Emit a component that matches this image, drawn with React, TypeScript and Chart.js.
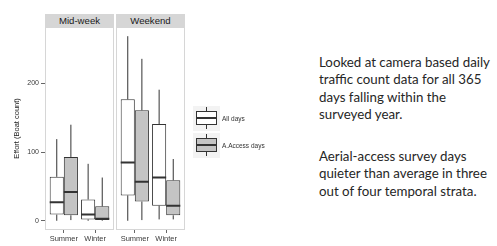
import { useEffect, useRef } from "react";
import { Chart, registerables } from "chart.js";
Chart.register(...registerables);

const panels = ["Mid-week", "Weekend"];
const categories = ["Summer", "Winter"];
const seriesNames = ["All days", "A.Access days"];
const yTicks = [0, 100, 200];
// each entry: [min, q1, median, q3, max] for Summer, Winter
const midweekAllDays = [[0, 9, 27, 64, 119], [0, 2, 9, 31, 83]];
const midweekAccessDays = [[1, 8, 42, 93, 140], [0, 1, 3, 21, 63]];
const weekendAllDays = [[0, 37, 85, 177, 269], [2, 22, 63, 141, 191]];
const weekendAccessDays = [[1, 28, 57, 161, 236], [2, 8, 22, 59, 90]];
const seriesFills = ["#ffffff", "#c4c4c4"];
const yMin = -13.45;
const yMax = 282.4;

const paragraph1 = ["Looked at camera based daily", "traffic count data for all 365", "days falling within the", "surveyed year."];
const paragraph2 = ["Aerial-access survey days", "quieter than average in three", "out of four temporal strata."];

Chart.defaults.font.family = "'Liberation Sans', Arial, sans-serif";

const panelBorder = {
  id: "panelBorder",
  afterDatasetsDraw(chart: any) {
    const { ctx, chartArea: a } = chart;
    ctx.save();
    ctx.strokeStyle = "#d6d6d6";
    ctx.lineWidth = 1;
    ctx.strokeRect(a.left + 0.5, a.top + 0.5, a.right - a.left - 1, a.bottom - a.top - 1);
    ctx.restore();
  },
};

function buildDatasets(stats: number[][][]) {
  const ds: any[] = [];
  stats.forEach((series, s) => {
    const off = s === 0 ? -0.225 : 0.225;
    ds.push({
      type: "bar",
      label: seriesNames[s],
      data: series.map((b, i) => ({ x: i + 1, y: [b[1], b[3]] })),
      backgroundColor: seriesFills[s],
      borderColor: "#333333",
      borderWidth: 1,
      borderSkipped: false,
      barPercentage: 1,
      categoryPercentage: 0.9,
      order: 1,
    });
    const whisk: any[] = [];
    series.forEach((b, i) => {
      const cx = i + 1 + off;
      whisk.push({ x: cx, y: b[0] }, { x: cx, y: b[1] }, { x: cx, y: null }, { x: cx, y: b[3] }, { x: cx, y: b[4] }, { x: cx, y: null });
    });
    ds.push({
      type: "line",
      label: seriesNames[s] + " whiskers",
      data: whisk,
      borderColor: "#333333",
      borderWidth: 1,
      pointRadius: 0,
      spanGaps: false,
      order: 2,
    });
    const med: any[] = [];
    series.forEach((b, i) => {
      const c = i + 1 + off;
      med.push({ x: c - 0.225, y: b[2] }, { x: c + 0.225, y: b[2] }, { x: c, y: null });
    });
    ds.push({
      type: "line",
      label: seriesNames[s] + " median",
      data: med,
      borderColor: "#333333",
      borderWidth: 2,
      pointRadius: 0,
      spanGaps: false,
      order: 0,
    });
  });
  return ds;
}

function Panel(props: { stats: number[][][]; showY: boolean; left: number; width: number; pad: any }) {
  const ref = useRef<HTMLCanvasElement>(null);
  useEffect(() => {
    const chart = new Chart(ref.current as HTMLCanvasElement, {
      type: "bar",
      data: { datasets: buildDatasets(props.stats) },
      options: {
        animation: false,
        responsive: false,
        maintainAspectRatio: false,
        layout: { padding: props.pad },
        plugins: { legend: { display: false }, tooltip: { enabled: false } },
        scales: {
          x: {
            type: "linear",
            offset: false,
            min: 0.4,
            max: 2.6,
            afterBuildTicks: (s: any) => {
              s.ticks = categories.map((_, i) => ({ value: i + 1 }));
            },
            afterFit: (s: any) => {
              s.height = 16;
            },
            ticks: {
              callback: (v: any) => categories[Math.round(Number(v)) - 1] ?? "",
              font: { size: 7.5 },
              color: "#3a3a3a",
              padding: 1,
              autoSkip: false,
              maxRotation: 0,
            },
            grid: { drawOnChartArea: false, offset: false, tickLength: 3, color: "#666666" },
            border: { display: false },
          },
          y: {
            type: "linear",
            display: props.showY,
            min: yMin,
            max: yMax,
            afterBuildTicks: (s: any) => {
              s.ticks = yTicks.map((v) => ({ value: v }));
            },
            afterFit: (s: any) => {
              s.width = props.showY ? 33 : 0;
            },
            ticks: { font: { size: 7 }, color: "#3a3a3a", padding: 2 },
            grid: { drawOnChartArea: false, tickLength: 4, color: "#666666" },
            border: { display: false },
            title: {
              display: props.showY,
              text: "Effort (Boat count)",
              font: { size: 7.5 },
              color: "#1a1a1a",
              padding: { top: 0, bottom: 0 },
            },
          },
        },
      } as any,
      plugins: [panelBorder],
    });
    return () => chart.destroy();
  }, []);
  return (
    <canvas
      ref={ref}
      width={props.width}
      height={231}
      style={{ position: "absolute", left: props.left, top: 15, width: props.width, height: 231 }}
    />
  );
}

function Strip(props: { text: string; left: number }) {
  return (
    <div
      style={{
        position: "absolute",
        left: props.left,
        top: 14,
        width: 69,
        height: 13,
        background: "#d6d6d6",
        color: "#1a1a1a",
        fontFamily: "'Liberation Sans', Arial, sans-serif",
        fontSize: 9.6,
        lineHeight: "13px",
        textAlign: "center",
      }}
    >
      {props.text}
    </div>
  );
}

function LegendKey(props: { top: number; fill: string }) {
  const t = props.top;
  return (
    <>
      <div style={{ position: "absolute", left: 193, top: t - 5, width: 27, height: 25, background: "#f3f3f3" }} />
      <div style={{ position: "absolute", left: 206, top: t - 4, width: 1, height: 4, background: "#333" }} />
      <div style={{ position: "absolute", left: 206, top: t + 14, width: 1, height: 4, background: "#333" }} />
      <div
        style={{
          position: "absolute",
          left: 196,
          top: t,
          width: 21,
          height: 14,
          boxSizing: "border-box",
          border: "1px solid #333",
          background: props.fill,
        }}
      />
      <div style={{ position: "absolute", left: 196, top: t + 6, width: 21, height: 2, background: "#333" }} />
    </>
  );
}

export default function App() {
  const textStyle: any = {
    position: "absolute",
    left: 319,
    fontFamily: "Lato, sans-serif",
    fontSize: 13.3,
    lineHeight: "17.3px",
    color: "#262626",
    whiteSpace: "nowrap",
  };
  return (
    <div style={{ position: "absolute", left: 0, top: 0, width: 497, height: 246, background: "#fff", overflow: "hidden" }}>
      <Panel stats={[midweekAllDays, midweekAccessDays]} showY={true} left={0} width={116} pad={{ top: 12, left: 12, right: 2, bottom: 0 }} />
      <Panel stats={[weekendAllDays, weekendAccessDays]} showY={false} left={110} width={80} pad={{ top: 12, left: 6, right: 5, bottom: 0 }} />
      <Strip text={panels[0]} left={45} />
      <Strip text={panels[1]} left={116} />
      <LegendKey top={111} fill={seriesFills[0]} />
      <LegendKey top={138} fill={seriesFills[1]} />
      <div style={{ position: "absolute", left: 222, top: 114, fontFamily: "'Liberation Sans', Arial, sans-serif", fontSize: 6.5, lineHeight: "10px", color: "#333" }}>
        {seriesNames[0]}
      </div>
      <div style={{ position: "absolute", left: 222, top: 141, fontFamily: "'Liberation Sans', Arial, sans-serif", fontSize: 6.5, lineHeight: "10px", color: "#333" }}>
        {seriesNames[1]}
      </div>
      <div style={{ ...textStyle, top: 54 }}>
        {paragraph1.map((l, i) => (
          <div key={i}>{l}</div>
        ))}
      </div>
      <div style={{ ...textStyle, top: 148 }}>
        {paragraph2.map((l, i) => (
          <div key={i}>{l}</div>
        ))}
      </div>
    </div>
  );
}
